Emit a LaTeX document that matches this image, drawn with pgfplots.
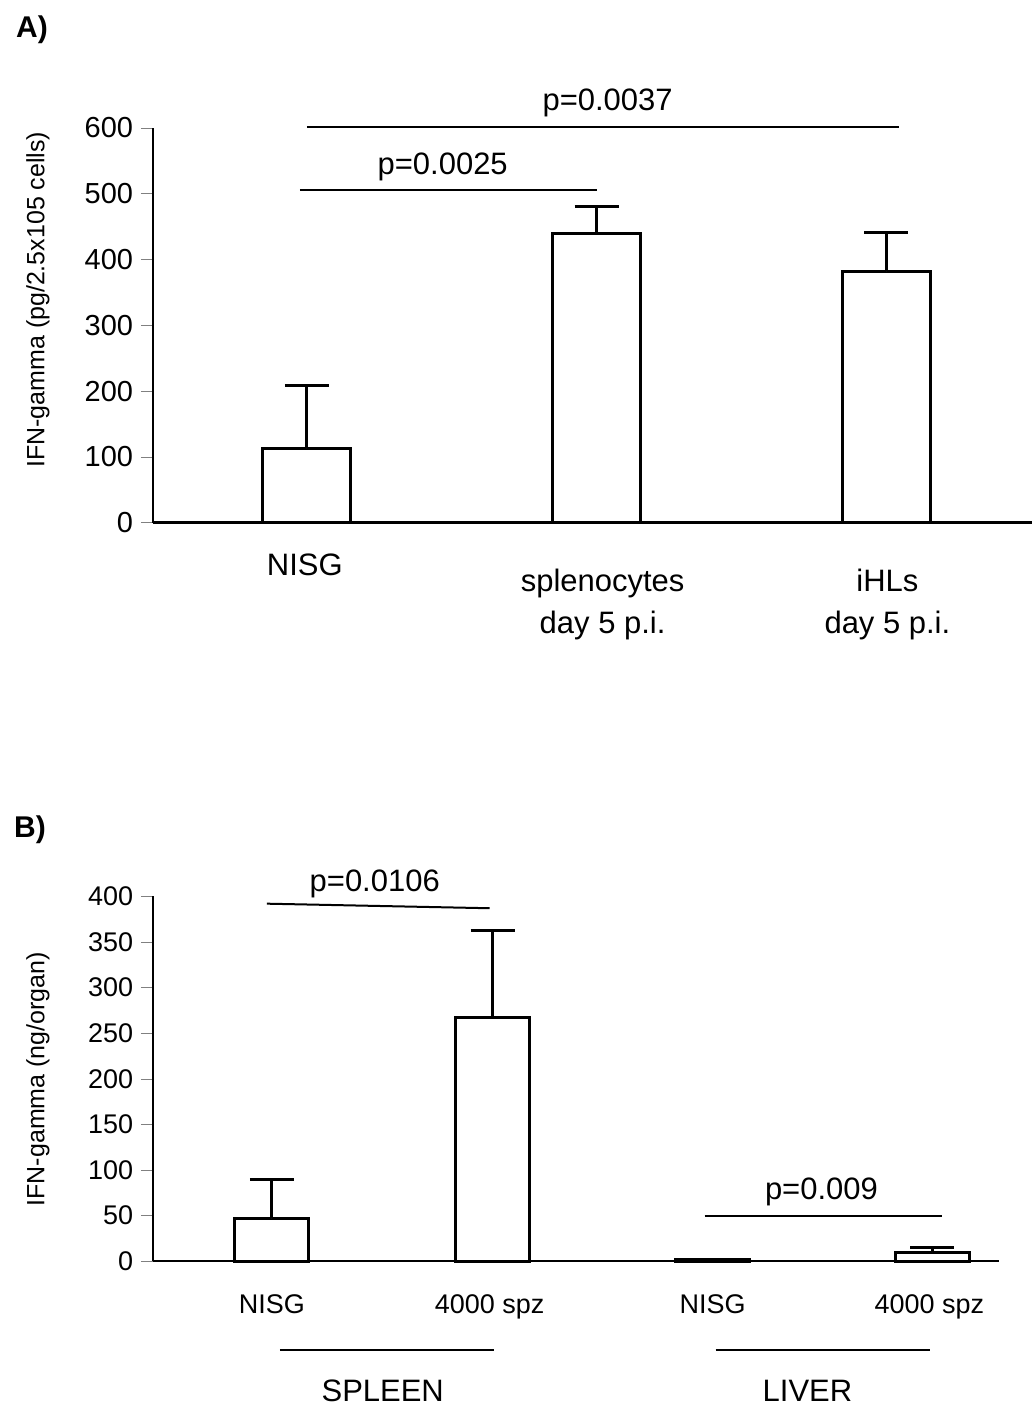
\documentclass[border=0pt]{standalone}
\usepackage{pgfplots}
\pgfplotsset{compat=1.18}
\usepackage{fontspec}
\setmainfont{Liberation Sans}
\newcommand{\PX}[2]{({#1*0.5pt},{(1408-#2)*0.5pt})}
\begin{document}
\begin{tikzpicture}
\path (0,0) rectangle (516.5pt,704pt);
\pgfplotsset{base/.style={scale only axis, anchor=origin, axis x line*=bottom, axis y line*=left,
  xtick=\empty, tick align=outside, major tick length=6pt, line width=1.2pt,
  /pgf/number format/assume math mode=true, clip=false,
  every axis plot/.append style={line width=1.5pt},
  error bars/error bar style={line width=1.5pt}, error bars/error mark options={rotate=90,mark size=11pt,line width=1.5pt}}}
% Panel A
\begin{axis}[base, at={(76.5pt,442.5pt)}, width=440pt, height=197.5pt, xmin=153, xmax=1033, ymin=0, ymax=600,
  ytick={0,100,...,600}, yticklabel style={font=\fontsize{14.5}{14.5}\selectfont}]
\addplot[ybar, bar width=44pt, draw=black, fill=white,
  error bars/.cd, y dir=plus, y explicit] coordinates {(307,113) +- (0,95) (597,440) +- (0,40) (887,382) +- (0,59)};
\draw[line width=1pt] (axis cs:300,506) -- (axis cs:597,506);
\draw[line width=1pt] (axis cs:307,601) -- (axis cs:900,601);
\node[font=\fontsize{15.5}{15.5}\selectfont] at (axis cs:443,540) {p=0.0025};
\node[font=\fontsize{15.5}{15.5}\selectfont] at (axis cs:608,638) {p=0.0037};
\end{axis}
\node[font=\bfseries\fontsize{15}{15}\selectfont] at \PX{32}{30} {A)};
\node[rotate=90,font=\fontsize{12.5}{12.5}\selectfont] at \PX{38}{300} {IFN-gamma (pg/2.5x105 cells)};
\node[font=\fontsize{15.5}{15.5}\selectfont] at \PX{305}{565} {NISG};
\node[font=\fontsize{15.5}{21}\selectfont, align=center] at \PX{603}{605} {splenocytes\\day 5 p.i.};
\node[font=\fontsize{15.5}{21}\selectfont, align=center] at \PX{888}{605} {iHLs\\day 5 p.i.};
% Panel B
\begin{axis}[base, at={(76.5pt,73pt)}, width=423.5pt, height=182.5pt, xmin=153, xmax=1000, ymin=0, ymax=400,
  ytick={0,50,...,400}, yticklabel style={font=\fontsize{13.5}{13.5}\selectfont}]
\addplot[ybar, bar width=37pt, draw=black, fill=white,
  error bars/.cd, y dir=plus, y explicit] coordinates {(272,47) +- (0,42) (493,267) +- (0,96) (713,2) +- (0,0) (933,10) +- (0,5)};
\draw[line width=1pt] (axis cs:267,392) -- (axis cs:490,387);
\draw[line width=1pt] (axis cs:705,49) -- (axis cs:943,49);
\node[font=\fontsize{15.5}{15.5}\selectfont] at (axis cs:375,414) {p=0.0106};
\node[font=\fontsize{15.5}{15.5}\selectfont] at (axis cs:822,76) {p=0.009};
\end{axis}
\node[font=\bfseries\fontsize{15}{15}\selectfont] at \PX{30}{830} {B)};
\node[rotate=90,font=\fontsize{12.5}{12.5}\selectfont] at \PX{38}{1080} {IFN-gamma (ng/organ)};
\foreach \x/\t in {272/NISG,490/4000 spz,713/NISG,930/4000 spz}
  \node[anchor=base,font=\fontsize{13.5}{13.5}\selectfont] at \PX{\x}{1314} {\t};
\draw[line width=1pt] \PX{280}{1351} -- \PX{494}{1351};
\draw[line width=1pt] \PX{716}{1351} -- \PX{931}{1351};
\node[anchor=base,font=\fontsize{15.5}{15.5}\selectfont] at \PX{383}{1402} {SPLEEN};
\node[anchor=base,font=\fontsize{15.5}{15.5}\selectfont] at \PX{808}{1402} {LIVER};
\end{tikzpicture}
\end{document}
